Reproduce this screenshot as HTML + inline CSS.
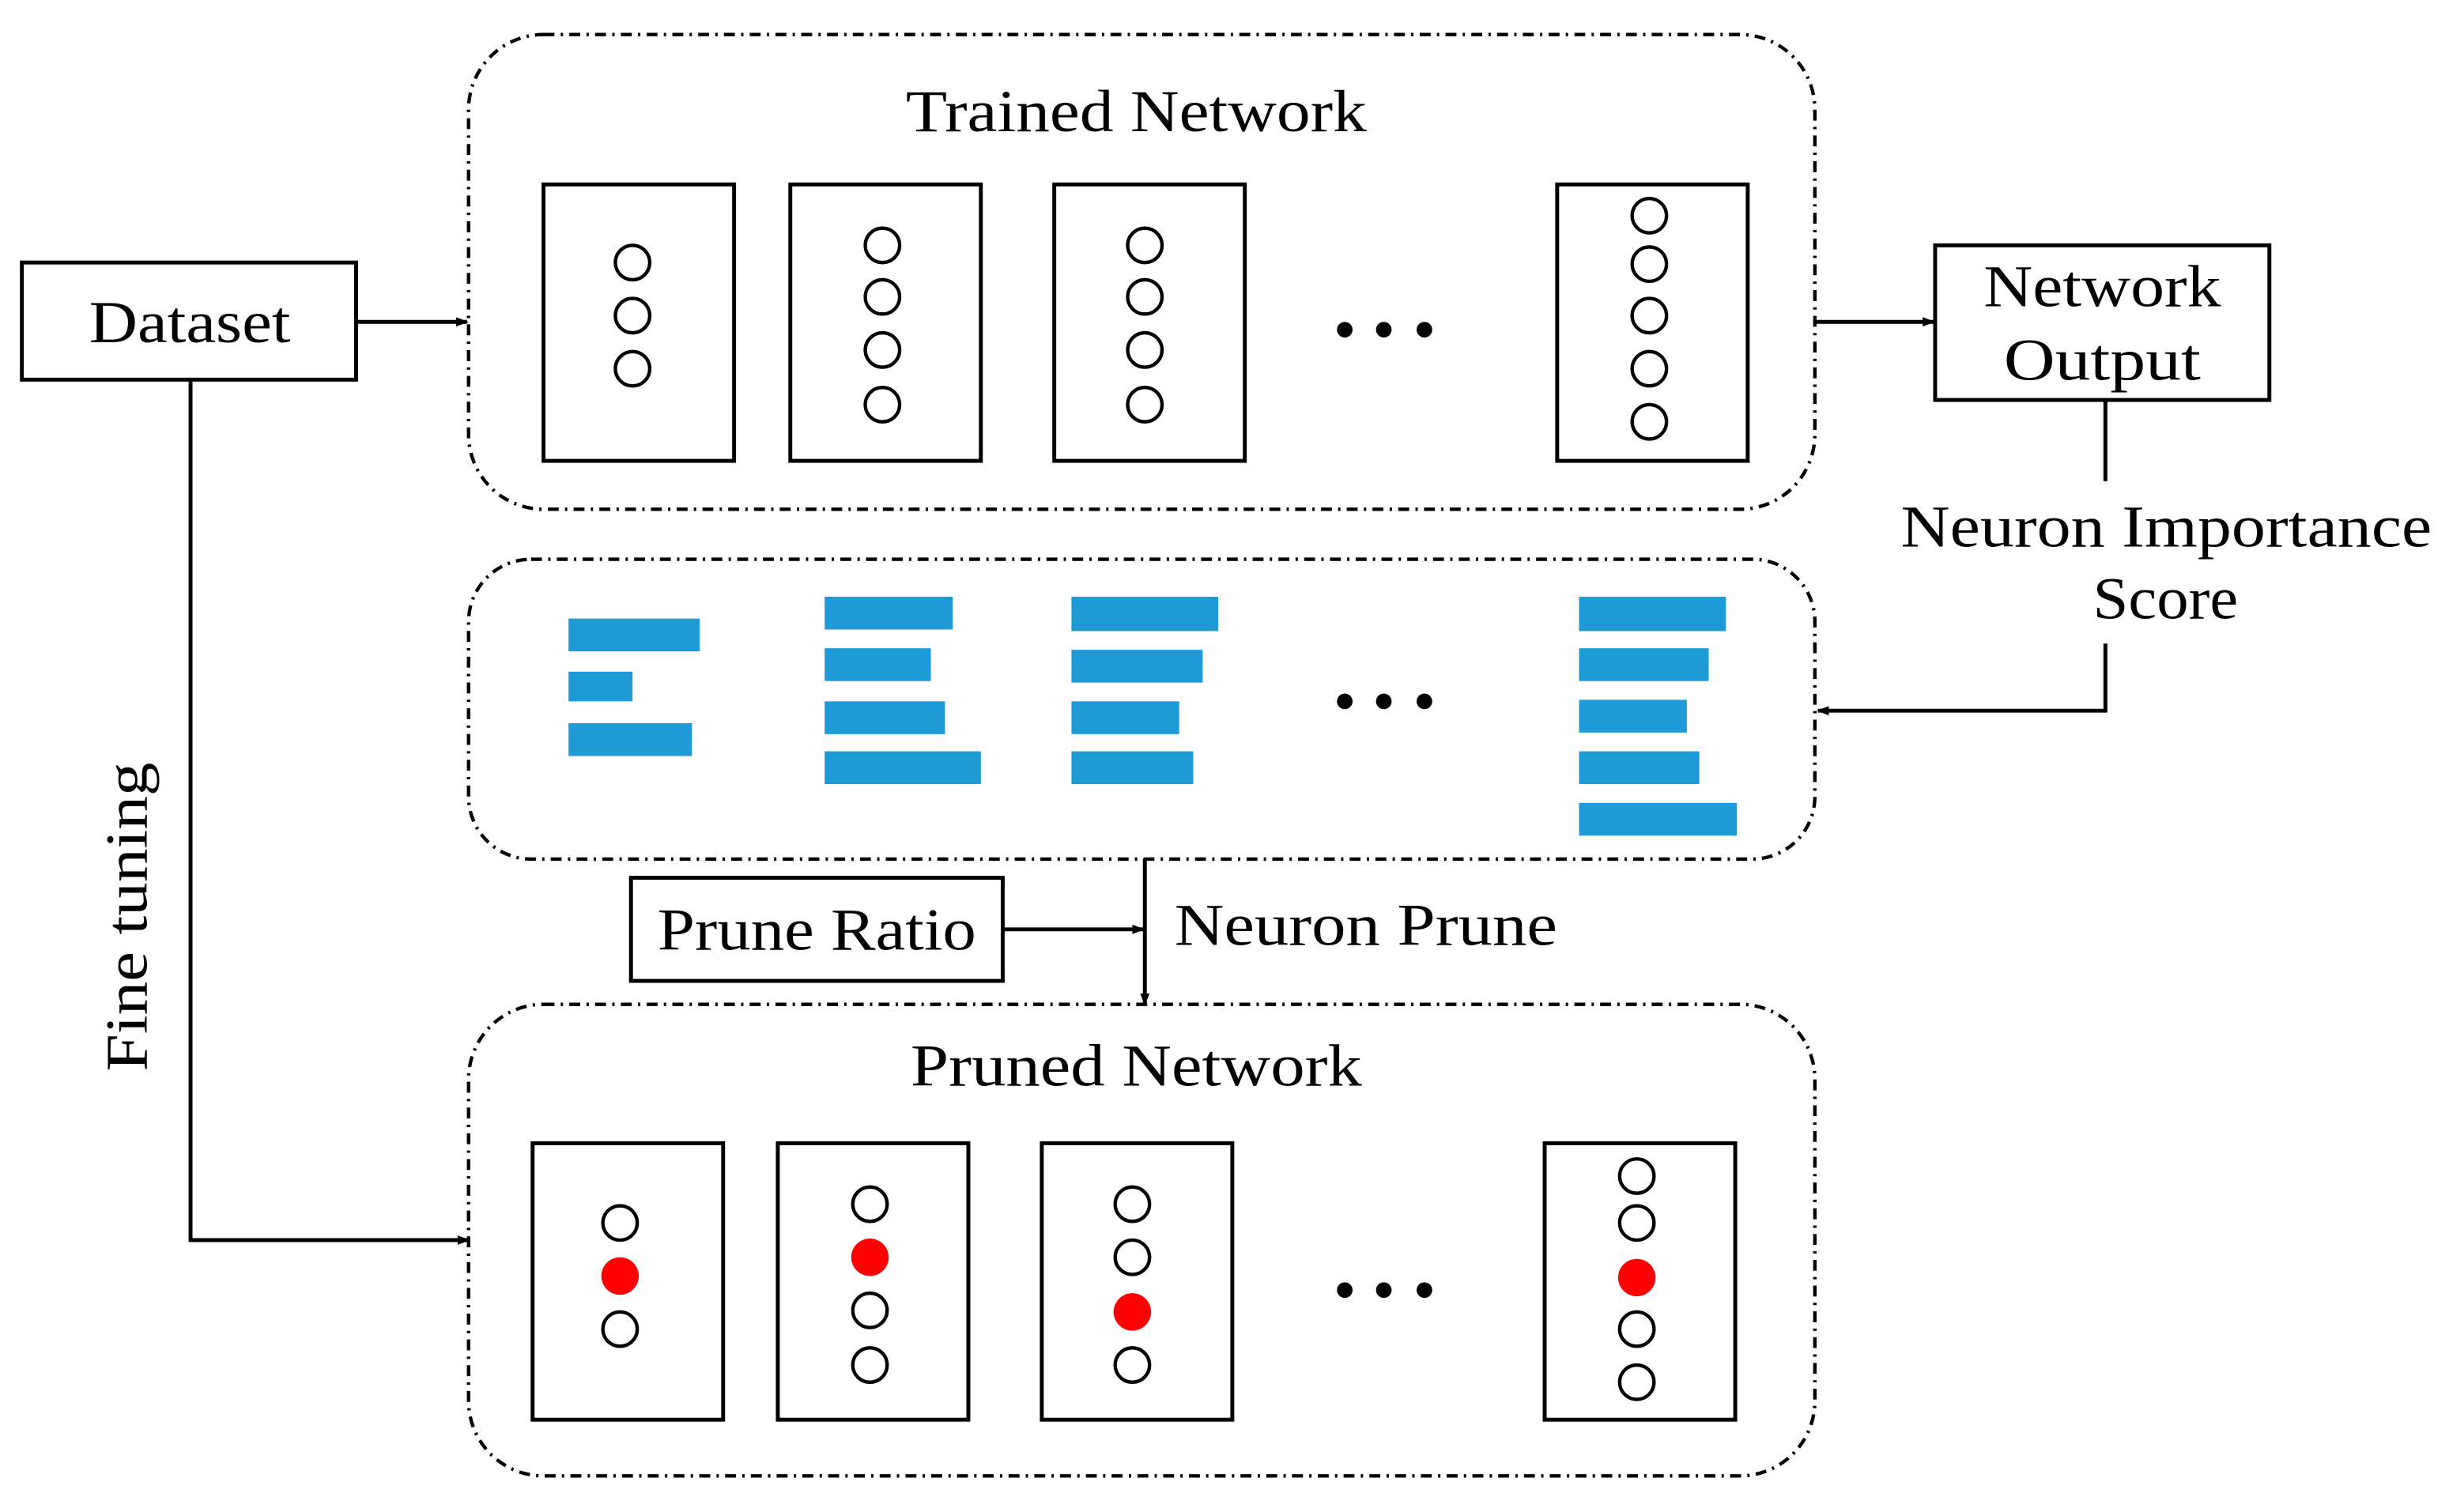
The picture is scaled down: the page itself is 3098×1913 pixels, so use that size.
<!DOCTYPE html>
<html><head><meta charset="utf-8"><style>
html,body{margin:0;padding:0;background:#fff}
svg{display:block}
text{font-family:"Liberation Serif",serif;font-size:38px;fill:#000}
</style></head><body>
<svg width="3098" height="1913" viewBox="0 0 1568 968" xmlns="http://www.w3.org/2000/svg">
<defs><marker id="a" markerWidth="8" markerHeight="8" refX="7" refY="4" orient="auto" markerUnits="userSpaceOnUse"><path d="M0,1 L8,4 L0,7 z" fill="#000"/></marker></defs>
<g fill="none" stroke="#000" stroke-width="2.2" stroke-dasharray="7 4 1.5 4">
<rect x="300" y="22" width="862" height="304" rx="48"/>
<rect x="300" y="358" width="862" height="192" rx="40"/>
<rect x="300" y="643" width="862" height="302" rx="48"/>
</g>
<g fill="none" stroke="#000" stroke-width="2.5">
<rect x="348" y="118" width="122" height="177"/><rect x="506" y="118" width="122" height="177"/>
<rect x="675" y="118" width="122" height="177"/><rect x="997" y="118" width="122" height="177"/>
<rect x="341" y="732" width="122" height="177"/><rect x="498" y="732" width="122" height="177"/>
<rect x="667" y="732" width="122" height="177"/><rect x="989" y="732" width="122" height="177"/>
<rect x="14" y="168" width="214" height="75"/><rect x="1239" y="157" width="214" height="99"/>
<rect x="404" y="562" width="238" height="66"/>
</g>
<g fill="none" stroke="#000" stroke-width="2.2">
<circle cx="405" cy="168" r="11"/><circle cx="405" cy="202" r="11"/><circle cx="405" cy="236" r="11"/>
<circle cx="565" cy="157" r="11"/><circle cx="565" cy="190" r="11"/><circle cx="565" cy="224" r="11"/><circle cx="565" cy="259" r="11"/>
<circle cx="733" cy="157" r="11"/><circle cx="733" cy="190" r="11"/><circle cx="733" cy="224" r="11"/><circle cx="733" cy="259" r="11"/>
<circle cx="1056" cy="138" r="11"/><circle cx="1056" cy="169" r="11"/><circle cx="1056" cy="202" r="11"/><circle cx="1056" cy="236" r="11"/><circle cx="1056" cy="270" r="11"/>
<circle cx="397" cy="783" r="11"/><circle cx="397" cy="851" r="11"/>
<circle cx="557" cy="771" r="11"/><circle cx="557" cy="839" r="11"/><circle cx="557" cy="874" r="11"/>
<circle cx="725" cy="771" r="11"/><circle cx="725" cy="805" r="11"/><circle cx="725" cy="874" r="11"/>
<circle cx="1048" cy="753" r="11"/><circle cx="1048" cy="783" r="11"/><circle cx="1048" cy="851" r="11"/><circle cx="1048" cy="885" r="11"/>
</g>
<g fill="#ff0000">
<circle cx="397" cy="817" r="12"/><circle cx="557" cy="805" r="12"/><circle cx="725" cy="840" r="12"/><circle cx="1048" cy="818" r="12"/>
</g>
<g fill="#000">
<circle cx="861" cy="211" r="5"/><circle cx="886" cy="211" r="5"/><circle cx="912" cy="211" r="5"/>
<circle cx="861" cy="449" r="5"/><circle cx="886" cy="449" r="5"/><circle cx="912" cy="449" r="5"/>
<circle cx="861" cy="826" r="5"/><circle cx="886" cy="826" r="5"/><circle cx="912" cy="826" r="5"/>
</g>
<g fill="#1e9ad6">
<rect x="364" y="396" width="84" height="21"/><rect x="364" y="430" width="41" height="19"/><rect x="364" y="463" width="79" height="21"/>
<rect x="528" y="382" width="82" height="21"/><rect x="528" y="415" width="68" height="21"/><rect x="528" y="449" width="77" height="21"/><rect x="528" y="481" width="100" height="21"/>
<rect x="686" y="382" width="94" height="22"/><rect x="686" y="416" width="84" height="21"/><rect x="686" y="449" width="69" height="21"/><rect x="686" y="481" width="78" height="21"/>
<rect x="1011" y="382" width="94" height="22"/><rect x="1011" y="415" width="83" height="21"/><rect x="1011" y="448" width="69" height="21"/><rect x="1011" y="481" width="77" height="21"/><rect x="1011" y="514" width="101" height="21"/>
</g>
<g fill="none" stroke="#000" stroke-width="2.5">
<line x1="228" y1="206" x2="299" y2="206" marker-end="url(#a)"/>
<line x1="1162" y1="206" x2="1238" y2="206" marker-end="url(#a)"/>
<line x1="1348" y1="256" x2="1348" y2="308"/>
<polyline points="1348,412 1348,455 1164,455" marker-end="url(#a)"/>
<line x1="733" y1="550" x2="733" y2="643" marker-end="url(#a)"/>
<line x1="642" y1="595" x2="732" y2="595" marker-end="url(#a)"/>
<polyline points="122,243 122,794 300,794" marker-end="url(#a)"/>
</g>
<g lengthAdjust="spacingAndGlyphs">
<text x="580" y="84" textLength="295" lengthAdjust="spacingAndGlyphs">Trained Network</text>
<text x="583" y="695" textLength="289" lengthAdjust="spacingAndGlyphs">Pruned Network</text>
<text x="57" y="219" textLength="129" lengthAdjust="spacingAndGlyphs">Dataset</text>
<text x="1270" y="196" textLength="152" lengthAdjust="spacingAndGlyphs">Network</text>
<text x="1283" y="243" textLength="126" lengthAdjust="spacingAndGlyphs">Output</text>
<text x="1217" y="350" textLength="340" lengthAdjust="spacingAndGlyphs">Neuron Importance</text>
<text x="1340" y="396" textLength="93" lengthAdjust="spacingAndGlyphs">Score</text>
<text x="421" y="608" textLength="204" lengthAdjust="spacingAndGlyphs">Prune Ratio</text>
<text x="752" y="605" textLength="245" lengthAdjust="spacingAndGlyphs">Neuron Prune</text>
<text transform="translate(94,686) rotate(-90)" x="0" y="0" textLength="198" lengthAdjust="spacingAndGlyphs">Fine tuning</text>
</g>
</svg>
</body></html>
